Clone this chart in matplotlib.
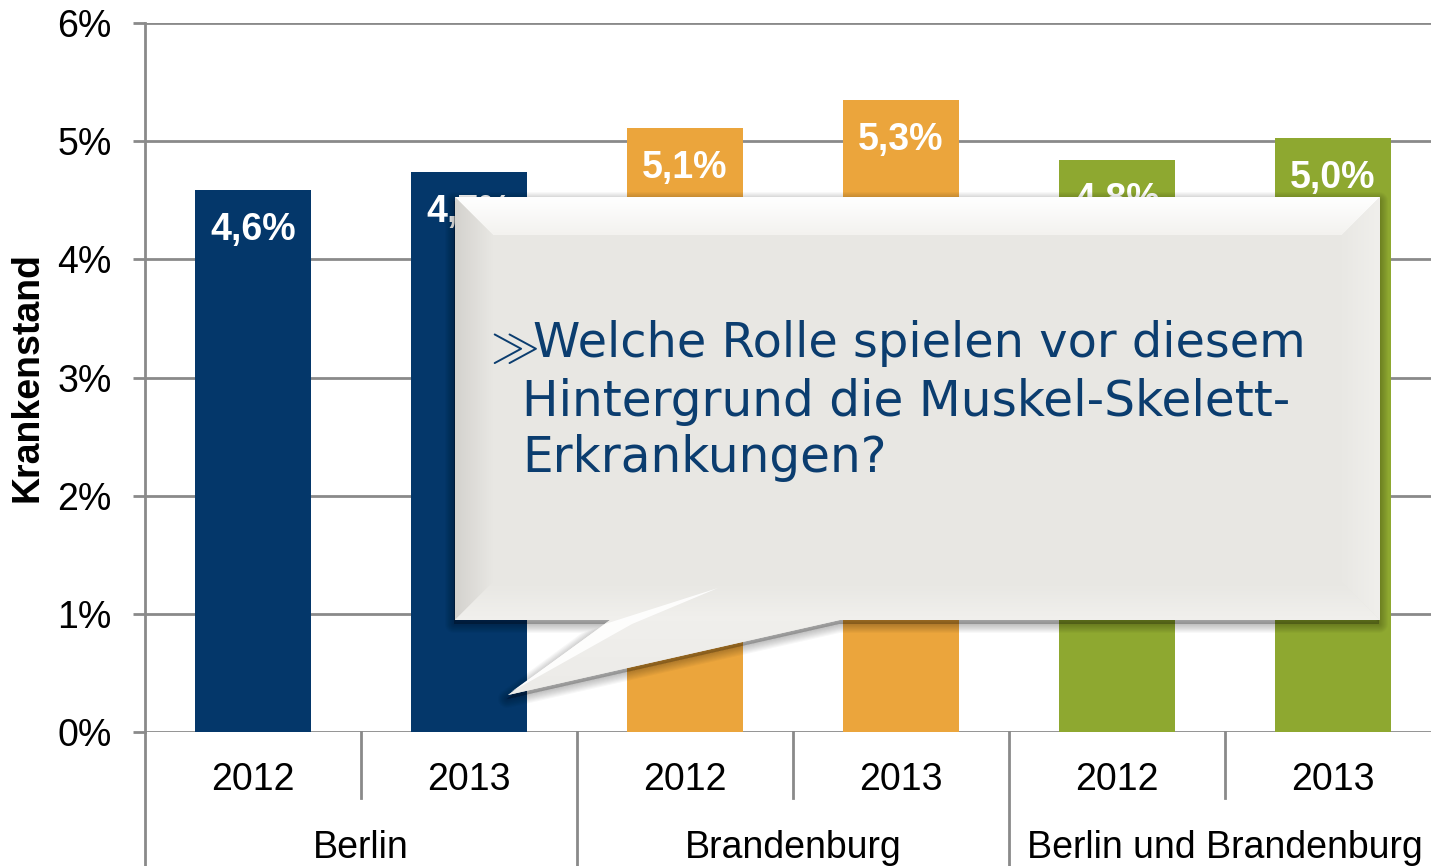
import matplotlib
matplotlib.use("Agg")
import matplotlib.pyplot as plt
import matplotlib.transforms as mtransforms
from matplotlib.patches import Polygon
import numpy as np

plt.rcParams['font.family'] = ['Liberation Sans', 'DejaVu Sans']

# data
groups = ['Berlin', 'Brandenburg', 'Berlin und Brandenburg']
years = ['2012', '2013', '2012', '2013', '2012', '2013']
values = [4.59, 4.74, 5.11, 5.35, 4.84, 5.03]
labels = ['4,6%', '4,7%', '5,1%', '5,3%', '4,8%', '5,0%']
colors = ['#04376A', '#04376A', '#EBA53C', '#EBA53C', '#8EA830', '#8EA830']
yticks = [0, 1, 2, 3, 4, 5, 6]
callout_first = "Welche Rolle spielen vor diesem"
callout_rest = "Hintergrund die Muskel-Skelett-\nErkrankungen?"

W, H = 1431, 866
fig = plt.figure(figsize=(W / 100, H / 100), dpi=100)
ax = fig.add_axes([145 / W, (H - 732) / H, 1296 / W, (732 - 23) / H])

grid_c = '#8A8A8A'
x = np.arange(len(values))
ax.bar(x, values, width=0.54, color=colors, zorder=2)
ax.set_xlim(-0.5, 5.5)
ax.set_ylim(0, 6)
ax.set_yticks(yticks)
ax.set_yticklabels([f'{t}%' for t in yticks], fontsize=27)
ax.set_xticks([])
for t in yticks:
    ax.axhline(t, color=grid_c, lw=2, zorder=1)
for s in ['top', 'right', 'bottom']:
    ax.spines[s].set_visible(False)
ax.spines['left'].set_color(grid_c)
ax.spines['left'].set_linewidth(2)
ax.tick_params(axis='y', length=9, width=2, color=grid_c, pad=15)
ax.set_ylabel('Krankenstand', fontsize=27, fontweight='bold')
ax.yaxis.set_label_coords(-0.077, 0.5)

for xi, v, lab in zip(x, values, labels):
    ax.annotate(lab, (xi, v), xytext=(0, -29), textcoords='offset points',
                ha='center', va='center', color='white', fontsize=27,
                fontweight='bold', zorder=3)

# two-level category axis
tr = mtransforms.blended_transform_factory(ax.transData, fig.transFigure)
for xi, yr in zip(x, years):
    ax.text(xi, 0.099, yr, transform=tr, ha='center', va='center', fontsize=27)
for gi, g in enumerate(groups):
    ax.text(2 * gi + 0.5, 0.021, g, transform=tr, ha='center', va='center', fontsize=27)
for gi in range(len(groups)):
    ax.plot([2 * gi + 0.5] * 2, [0.0785, 0.1547], transform=tr, color=grid_c,
            lw=2, clip_on=False)
    ax.plot([2 * gi + 1.5] * 2, [0.0, 0.1547], transform=tr, color=grid_c,
            lw=2, clip_on=False)
ax.plot([-0.5] * 2, [0.0, 0.1547], transform=tr, color=grid_c, lw=2, clip_on=False)

# callout bubble
ov = fig.add_axes([0, 0, 1, 1], zorder=5)
ov.patch.set_alpha(0)
ov.axis('off')

x0, x1, y0, y1, b = 455, 1380, 197, 620, 38
outline = [(x0, y0), (x1, y0), (x1, y1), (840, y1), (508, 695), (610, y1), (x0, y1)]

for k in range(8, 0, -1):
    sh = [(px - 1, py + 4) for px, py in outline]
    ov.add_patch(Polygon(sh, closed=True, facecolor='#000000', edgecolor='#000000',
                         lw=k * 1.6, alpha=0.03, joinstyle='round'))

ov.add_patch(Polygon(outline, closed=True, facecolor='#E8E7E3', edgecolor='none'))


def grad_poly(pts, c0, c1, vertical):
    poly = Polygon(pts, closed=True, facecolor='none', edgecolor='none')
    ov.add_patch(poly)
    xs = [p[0] for p in pts]
    ys = [p[1] for p in pts]
    a = np.array(matplotlib.colors.to_rgb(c0))
    c = np.array(matplotlib.colors.to_rgb(c1))
    t = np.linspace(0, 1, 64)[:, None]
    arr = a * (1 - t) + c * t
    arr = arr[:, None, :] if vertical else arr[None, :, :]
    im = ov.imshow(arr, extent=[min(xs), max(xs), max(ys), min(ys)],
                   aspect='auto', interpolation='bilinear', zorder=2)
    im.set_clip_path(poly)


grad_poly([(x0, y0), (x1, y0), (x1 - b, y0 + b), (x0 + b, y0 + b)], '#FFFFFF', '#F3F2EF', True)
grad_poly([(x0, y0), (x0 + b, y0 + b), (x0 + b, y1 - b), (x0, y1)], '#D4D2CE', '#E8E7E3', False)
grad_poly([(x0, y1), (x0 + b, y1 - b), (x1 - b, y1 - b), (x1, y1)], '#E8E7E3', '#F1F0ED', True)
grad_poly([(x1, y0), (x1 - b, y0 + b), (x1 - b, y1 - b), (x1, y1)], '#E9E8E4', '#F0EFEC', False)
grad_poly([(610, y1), (508, 695), (840, y1)], '#F0EFEC', '#ECEBE8', True)
ov.add_patch(Polygon([(511, 692), (605, 624), (718, 588), (632, 624)], closed=True,
                     facecolor='white', edgecolor='none', alpha=0.9, zorder=3))

ov.set_xlim(0, W)
ov.set_ylim(H, 0)

txt_c = '#0B3D6F'
ov.text(482, 361, r'$\gg$', fontsize=35, color=txt_c, math_fontfamily='cm',
        ha='left', va='baseline', zorder=4)
ov.text(533, 320, callout_first, fontsize=34.5, color=txt_c, family='DejaVu Sans',
        ha='left', va='top', zorder=4)
ov.text(522, 378, callout_rest, fontsize=35, color=txt_c, family='DejaVu Sans',
        ha='left', va='top', linespacing=1.2, zorder=4)

fig.savefig('out.png', dpi=100)
